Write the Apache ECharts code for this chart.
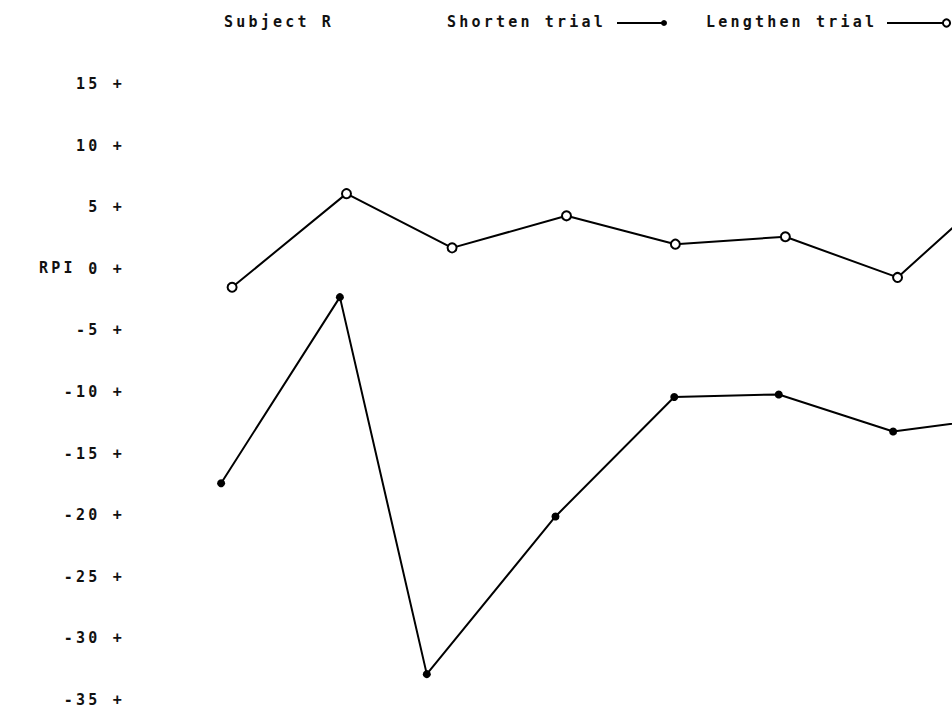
<!DOCTYPE html>
<html>
<head>
<meta charset="utf-8">
<title>Subject R - RPI</title>
<script src="https://cdn.jsdelivr.net/npm/echarts@6/dist/echarts.min.js"></script>
<style>
  html, body { margin: 0; padding: 0; background: #fff; }
  #chart { width: 952px; height: 714px; }
  /* wide plotter-style lettering */
  #chart text { letter-spacing: 3.2px; }
</style>
</head>
<body>
<div id="chart"></div>
<script>
// Trial positions along the run (shorten and lengthen trials are slightly offset)
const shortenX = [1.01, 2.09, 2.88, 4.05, 5.13, 6.08, 7.12, 8.14];
const lengthenX = [1.11, 2.15, 3.11, 4.15, 5.14, 6.14, 7.16, 8.18];

// RPI values per trial
const shortenRPI = [-17.4, -2.3, -32.9, -20.1, -10.4, -10.2, -13.2, -12.0];
const lengthenRPI = [-1.5, 6.1, 1.7, 4.3, 2.0, 2.6, -0.7, 7.5];

// Axis ticks
const yTicks = [15, 10, 5, 0, -5, -10, -15, -20, -25, -30, -35];

const seriesNames = ['Shorten trial', 'Lengthen trial'];
const titleText = 'Subject R';
const axisName = 'RPI';

const FONT = 'DejaVu Sans Mono';
const FONT_SIZE = 15;
const FONT_WEIGHT = 'bold';
const INK = '#111';

function pairs(xs, ys) {
  return xs.map((x, i) => [x, ys[i]]);
}

const chart = echarts.init(document.getElementById('chart'), null, { renderer: 'svg' });

const textFont = FONT_WEIGHT + ' ' + FONT_SIZE + 'px ' + FONT;

// Key drawn along the top line: label, then a short line ending in the series marker
function keyItems() {
  const y = 23;
  return [
    {
      type: 'text', left: 447, top: y - 9,
      style: { text: seriesNames[0], font: textFont, fill: INK }
    },
    {
      type: 'line', shape: { x1: 617, y1: y, x2: 662, y2: y },
      style: { stroke: '#000', lineWidth: 2 }
    },
    {
      type: 'circle', shape: { cx: 664, cy: y, r: 3 },
      style: { fill: '#000' }
    },
    {
      type: 'text', left: 706, top: y - 9,
      style: { text: seriesNames[1], font: textFont, fill: INK }
    },
    {
      type: 'line', shape: { x1: 887, y1: y, x2: 943, y2: y },
      style: { stroke: '#000', lineWidth: 2 }
    },
    {
      type: 'circle', shape: { cx: 946.5, cy: y, r: 3.6 },
      style: { fill: '#fff', stroke: '#000', lineWidth: 2 }
    }
  ];
}

const option = {
  backgroundColor: '#fff',
  animation: false,
  title: {
    text: titleText,
    left: 224,
    top: 14,
    padding: 0,
    textStyle: { fontFamily: FONT, fontSize: FONT_SIZE, fontWeight: FONT_WEIGHT, color: INK }
  },
  grid: { left: 132, right: 0, top: 84, bottom: 14, containLabel: false },
  xAxis: {
    type: 'value',
    min: 0.2,
    max: 7.655,
    show: false
  },
  yAxis: {
    type: 'value',
    min: yTicks[yTicks.length - 1],
    max: yTicks[0],
    interval: 5,
    axisLine: { show: false },
    axisTick: { show: false },
    splitLine: { show: false },
    axisLabel: {
      margin: 7,
      fontFamily: FONT,
      fontSize: FONT_SIZE,
      fontWeight: FONT_WEIGHT,
      color: INK,
      formatter: v => v + ' +'
    }
  },
  series: [
    {
      name: seriesNames[0],
      type: 'line',
      data: pairs(shortenX, shortenRPI),
      symbol: 'circle',
      symbolSize: 8,
      lineStyle: { color: '#000', width: 2 },
      itemStyle: { color: '#000' },
      clip: true
    },
    {
      name: seriesNames[1],
      type: 'line',
      data: pairs(lengthenX, lengthenRPI),
      symbol: 'emptyCircle',
      symbolSize: 9,
      lineStyle: { color: '#000', width: 2 },
      itemStyle: { color: '#000', borderColor: '#000', borderWidth: 2 },
      clip: true
    }
  ]
};

chart.setOption(option);

// axis name sits beside the zero tick
const zeroY = chart.convertToPixel({ yAxisIndex: 0 }, 0);
chart.setOption({
  graphic: keyItems().concat([{
    type: 'text',
    left: 39,
    top: zeroY - 8,
    style: { text: axisName, font: textFont, fill: INK }
  }])
});
</script>
</body>
</html>
